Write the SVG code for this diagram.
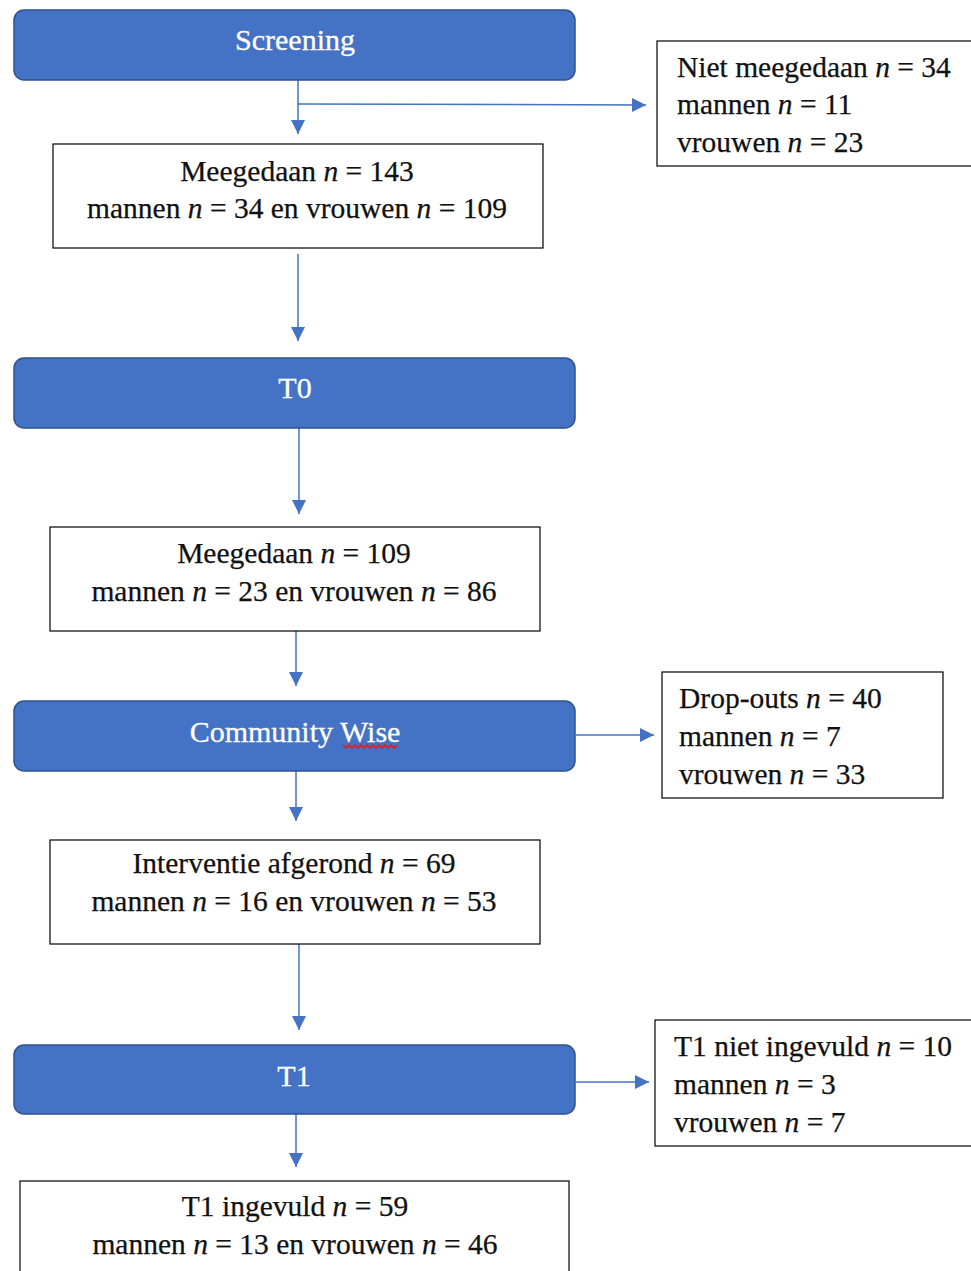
<svg xmlns="http://www.w3.org/2000/svg" width="971" height="1271" viewBox="0 0 971 1271">
<defs>
<style>
.phase{fill:#4472C4;stroke:#2F528F;stroke-width:1.5}
.box{fill:#fff;stroke:#000;stroke-width:1.2}
.t{font-family:"Liberation Serif",serif;font-size:29.5px;fill:#111;stroke:#111;stroke-width:0.25}
.w{font-family:"Liberation Serif",serif;font-size:30px;fill:#fff;text-anchor:middle;stroke:#fff;stroke-width:0.3}
.c{text-anchor:middle}
.i{font-style:italic}
.conn{stroke:#4472C4;stroke-width:1.5;fill:none}
</style>
<marker id="ah" viewBox="0 0 14 14" refX="14" refY="7" markerWidth="14" markerHeight="14" markerUnits="userSpaceOnUse" orient="auto">
<path d="M0,0 L14,7 L0,14 Z" fill="#4472C4"/>
</marker>
</defs>
<rect width="971" height="1271" fill="#fff"/>
<g id="connectors">
<line class="conn" x1="298" y1="80" x2="298" y2="134" marker-end="url(#ah)"/>
<line class="conn" x1="298" y1="104" x2="646" y2="105" marker-end="url(#ah)"/>
<line class="conn" x1="298" y1="254" x2="298" y2="341" marker-end="url(#ah)"/>
<line class="conn" x1="299" y1="428" x2="299" y2="514" marker-end="url(#ah)"/>
<line class="conn" x1="296" y1="631" x2="296" y2="686" marker-end="url(#ah)"/>
<line class="conn" x1="296" y1="771" x2="296" y2="821" marker-end="url(#ah)"/>
<line class="conn" x1="576" y1="735" x2="654" y2="735" marker-end="url(#ah)"/>
<line class="conn" x1="299" y1="944" x2="299" y2="1030" marker-end="url(#ah)"/>
<line class="conn" x1="296" y1="1114" x2="296" y2="1167" marker-end="url(#ah)"/>
<line class="conn" x1="576" y1="1082" x2="649" y2="1082" marker-end="url(#ah)"/>
</g>
<g id="screening">
<rect class="phase" x="14" y="10" width="561" height="70" rx="10"/>
<text class="w" x="295" y="50">Screening</text>
</g>
<g id="niet-meegedaan">
<rect class="box" x="657" y="41" width="320" height="125"/>
<text class="t" x="677" y="77">Niet meegedaan <tspan class="i">n</tspan> = 34</text>
<text class="t" x="677" y="114">mannen <tspan class="i">n</tspan> = 11</text>
<text class="t" x="677" y="152">vrouwen <tspan class="i">n</tspan> = 23</text>
</g>
<g id="meegedaan-143">
<rect class="box" x="53" y="144" width="490" height="104"/>
<text class="t c" x="297" y="181">Meegedaan <tspan class="i">n</tspan> = 143</text>
<text class="t c" x="297" y="218">mannen <tspan class="i">n</tspan> = 34 en vrouwen <tspan class="i">n</tspan> = 109</text>
</g>
<g id="t0">
<rect class="phase" x="14" y="358" width="561" height="70" rx="10"/>
<text class="w" x="295" y="398">T0</text>
</g>
<g id="meegedaan-109">
<rect class="box" x="50" y="527" width="490" height="104"/>
<text class="t c" x="294" y="563">Meegedaan <tspan class="i">n</tspan> = 109</text>
<text class="t c" x="294" y="601">mannen <tspan class="i">n</tspan> = 23 en vrouwen <tspan class="i">n</tspan> = 86</text>
</g>
<g id="community-wise">
<rect class="phase" x="14" y="701" width="561" height="70" rx="10"/>
<text class="w" x="295" y="742">Community Wise</text>
<path d="M343,745 l3,3 l3,-3 l3,3 l3,-3 l3,3 l3,-3 l3,3 l3,-3 l3,3 l3,-3 l3,3 l3,-3 l3,3 l3,-3 l3,3 l3,-3 l3,3 l3,-3" fill="none" stroke="#e0201c" stroke-width="1.6"/>
</g>
<g id="drop-outs">
<rect class="box" x="662" y="672" width="281" height="126"/>
<text class="t" x="679" y="708">Drop-outs <tspan class="i">n</tspan> = 40</text>
<text class="t" x="679" y="746">mannen <tspan class="i">n</tspan> = 7</text>
<text class="t" x="679" y="784">vrouwen <tspan class="i">n</tspan> = 33</text>
</g>
<g id="interventie">
<rect class="box" x="50" y="840" width="490" height="104"/>
<text class="t c" x="294" y="873">Interventie afgerond <tspan class="i">n</tspan> = 69</text>
<text class="t c" x="294" y="911">mannen <tspan class="i">n</tspan> = 16 en vrouwen <tspan class="i">n</tspan> = 53</text>
</g>
<g id="t1">
<rect class="phase" x="14" y="1045" width="561" height="69" rx="10"/>
<text class="w" x="294" y="1086">T1</text>
</g>
<g id="t1-niet-ingevuld">
<rect class="box" x="655" y="1020" width="322" height="126"/>
<text class="t" x="674" y="1056">T1 niet ingevuld <tspan class="i">n</tspan> = 10</text>
<text class="t" x="674" y="1094">mannen <tspan class="i">n</tspan> = 3</text>
<text class="t" x="674" y="1132">vrouwen <tspan class="i">n</tspan> = 7</text>
</g>
<g id="t1-ingevuld">
<rect class="box" x="20" y="1181" width="549" height="100"/>
<text class="t c" x="295" y="1216">T1 ingevuld <tspan class="i">n</tspan> = 59</text>
<text class="t c" x="295" y="1254">mannen <tspan class="i">n</tspan> = 13 en vrouwen <tspan class="i">n</tspan> = 46</text>
</g>
</svg>
